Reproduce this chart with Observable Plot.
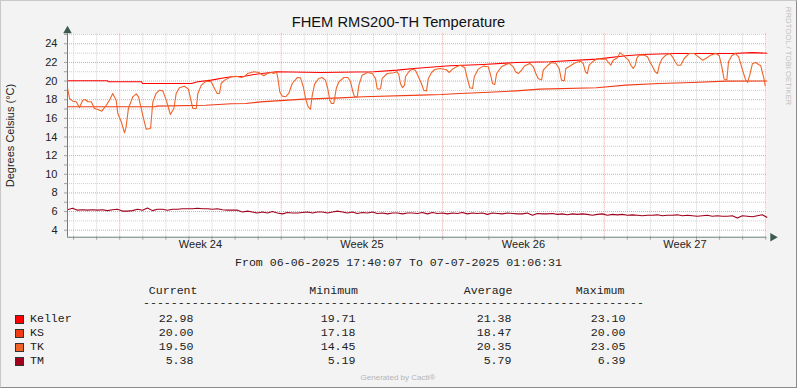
<!DOCTYPE html>
<html><head><meta charset="utf-8">
<script src="https://cdn.jsdelivr.net/npm/d3@7"></script>
<script src="https://cdn.jsdelivr.net/npm/@observablehq/plot@0.6"></script>
<style>
html,body{margin:0;padding:0;background:#f3f3f3;}
#wrap{position:relative;width:797px;height:388px;background:#f3f3f3;overflow:hidden;font-family:"Liberation Sans",Arial,sans-serif;}
#border{position:absolute;left:0;top:0;width:797px;height:388px;box-sizing:border-box;border-top:1px solid #c8c8c8;border-left:1px solid #c8c8c8;border-right:1px solid #8a8a8a;border-bottom:1px solid #8a8a8a;pointer-events:none;}
#chart{position:absolute;left:0;top:0;}
.t{position:absolute;white-space:pre;line-height:1;}
.box{position:absolute;width:7px;height:7px;border:1px solid #333;}
</style></head>
<body><div id="wrap"><div id="chart"></div><div id="border"></div></div>
<script>
// ---- data ----
const seriesNames = ["Keller", "KS", "TK", "TM"];
const seriesColors = ["#ff0000", "#f03c14", "#f06428", "#a0001c"];
const colCurrent = ["22.98", "20.00", "19.50", "5.38"];
const colMinimum = ["19.71", "17.18", "14.45", "5.19"];
const colAverage = ["21.38", "18.47", "20.35", "5.79"];
const colMaximum = ["23.10", "20.00", "23.05", "6.39"];
const headers = ["Current", "Minimum", "Average", "Maximum"];
const weekFmt = "Week %V";

// days since start
const kellerDays = [0, 1.73, 1.78, 3.21, 3.25, 5.37, 5.65, 6.23, 6.81, 7.10, 7.67, 8.08, 9.06, 10.97, 13.28, 14.29, 15.0, 16.57, 18.02, 19.46, 20.91, 22.93, 24.20, 24.92, 26.37, 28.83, 29.69, 30.31];
const kellerVals = [20.03, 20.03, 19.92, 19.92, 19.74, 19.74, 19.92, 20.1, 20.35, 20.46, 20.52, 20.7, 21.0, 20.92, 21.0, 21.17, 21.35, 21.64, 21.78, 21.99, 22.07, 22.35, 22.71, 22.85, 22.96, 22.96, 23.05, 22.98];

const ksDays = [0, 3.84, 3.85, 5.98, 7.10, 7.72, 8.37, 10.24, 11.83, 12.83, 15.30, 16.21, 17.0, 18.02, 19.46, 20.47, 22.93, 24.20, 25.65, 27.09, 28.54, 30.31];
const ksVals = [17.24, 17.24, 17.31, 17.41, 17.56, 17.59, 17.77, 18.06, 18.2, 18.31, 18.49, 18.56, 18.67, 18.77, 18.95, 19.13, 19.29, 19.56, 19.74, 19.85, 19.99, 20.0];

const tkDays = [0, 0.09, 0.23, 0.38, 0.52, 0.66, 0.77, 0.88, 1.03, 1.17, 1.31, 1.49, 1.68, 1.82, 1.96, 2.11, 2.18, 2.33, 2.47, 2.54, 2.64, 2.83, 2.98, 3.08, 3.26, 3.41, 3.60, 3.70, 3.84, 3.99, 4.13, 4.28, 4.46, 4.61, 4.71, 4.85, 5.07, 5.24, 5.43, 5.58, 5.65, 5.80, 6.01, 6.23, 6.37, 6.49, 6.59, 6.66, 6.81, 7.10, 7.31, 7.53, 7.68, 7.80, 8.08, 8.29, 8.51, 8.66, 8.83, 8.94, 9.06, 9.12, 9.20, 9.31, 9.45, 9.59, 9.74, 9.96, 10.10, 10.22, 10.32, 10.43, 10.53, 10.61, 10.71, 10.89, 11.04, 11.18, 11.28, 11.37, 11.44, 11.54, 11.65, 11.76, 11.98, 12.15, 12.27, 12.37, 12.44, 12.56, 12.63, 12.77, 12.99, 13.21, 13.35, 13.42, 13.49, 13.57, 13.64, 13.86, 14.14, 14.29, 14.36, 14.43, 14.52, 14.61, 14.65, 14.79, 14.94, 15.08, 15.18, 15.34, 15.44, 15.56, 15.64, 15.78, 15.92, 16.14, 16.40, 16.55, 16.69, 16.86, 17.03, 17.22, 17.33, 17.44, 17.56, 17.63, 17.80, 18.02, 18.24, 18.34, 18.42, 18.52, 18.60, 18.81, 19.00, 19.15, 19.32, 19.42, 19.54, 19.68, 19.82, 20.04, 20.19, 20.30, 20.40, 20.55, 20.62, 20.79, 20.98, 21.17, 21.31, 21.41, 21.53, 21.60, 21.80, 22.03, 22.24, 22.35, 22.45, 22.53, 22.61, 22.79, 22.97, 23.16, 23.33, 23.45, 23.55, 23.65, 23.84, 23.94, 24.09, 24.20, 24.32, 24.42, 24.52, 24.61, 24.68, 24.78, 25.00, 25.14, 25.24, 25.36, 25.47, 25.57, 25.65, 25.76, 25.93, 26.11, 26.22, 26.34, 26.44, 26.58, 26.73, 26.95, 27.16, 27.35, 27.52, 27.67, 27.88, 28.10, 28.25, 28.36, 28.46, 28.58, 28.65, 28.79, 28.94, 29.09, 29.26, 29.38, 29.48, 29.57, 29.69, 29.84, 29.95, 30.05, 30.13, 30.18, 30.24];
const tkVals = [19.28, 18.13, 17.84, 17.78, 17.17, 17.95, 18.02, 17.78, 17.78, 17.06, 16.95, 16.77, 17.41, 17.95, 18.67, 17.95, 16.52, 15.63, 14.45, 15.09, 17.06, 18.31, 18.63, 18.31, 16.34, 14.84, 14.91, 17.78, 18.67, 19.02, 18.95, 17.95, 16.41, 17.06, 18.67, 19.28, 19.45, 19.13, 17.06, 17.06, 18.67, 19.56, 19.99, 19.92, 19.2, 18.67, 18.67, 19.74, 20.1, 20.46, 20.52, 20.38, 20.5, 20.81, 21.0, 20.92, 20.57, 20.81, 20.92, 20.81, 21.0, 20.28, 18.85, 18.38, 18.31, 18.67, 19.74, 20.38, 20.35, 19.39, 18.13, 17.24, 16.98, 18.49, 19.67, 20.28, 20.38, 20.1, 19.2, 17.95, 17.59, 17.59, 19.2, 19.92, 20.38, 20.38, 19.92, 18.85, 18.31, 18.31, 19.56, 20.63, 20.92, 20.81, 20.28, 19.2, 19.13, 19.2, 20.28, 20.81, 20.89, 21.0, 20.71, 19.74, 19.28, 19.56, 20.46, 21.0, 21.28, 21.17, 20.63, 19.74, 19.02, 18.95, 20.28, 20.92, 21.24, 21.35, 21.24, 20.92, 21.28, 21.53, 21.7, 21.42, 20.28, 19.28, 19.2, 20.46, 21.28, 21.6, 21.53, 20.63, 19.74, 19.63, 20.81, 21.53, 21.78, 21.89, 21.53, 21.0, 20.81, 21.17, 21.64, 21.89, 21.53, 20.81, 20.28, 20.1, 21.17, 21.64, 21.99, 21.89, 21.35, 20.1, 20.03, 21.35, 21.64, 21.99, 22.13, 21.89, 21.0, 20.81, 21.7, 22.13, 22.42, 22.35, 22.35, 21.99, 21.7, 22.24, 22.49, 23.05, 22.78, 22.49, 22.24, 21.7, 21.35, 21.7, 22.49, 22.78, 22.78, 22.6, 22.07, 21.53, 21.0, 20.81, 21.7, 22.35, 22.78, 22.96, 22.6, 22.07, 21.7, 21.7, 22.42, 22.96, 22.96, 22.6, 22.24, 22.42, 22.78, 22.96, 22.71, 21.53, 20.2, 20.17, 22.07, 22.71, 22.96, 22.6, 21.17, 20.2, 19.85, 20.63, 21.89, 21.99, 21.78, 21.64, 20.81, 20.35, 19.5];

// TM sampled every 5.2 hours from the start, last value at the end of the range
const tmStepHours = 5.2;
const tmVals = [6.2, 6.35, 6.15, 6.2, 6.15, 6.2, 6.15, 6.2, 6.1, 6.2, 6.25, 6.05, 6.05, 6.1, 6.25, 6.15, 6.39, 6.1, 6.25, 6.25, 6.15, 6.25, 6.25, 6.3, 6.3, 6.3, 6.35, 6.3, 6.3, 6.25, 6.3, 6.2, 6.15, 6.15, 6.15, 5.95, 6.05, 5.95, 5.85, 5.95, 5.85, 6.0, 5.85, 5.75, 5.9, 5.85, 5.85, 5.9, 5.95, 5.85, 5.95, 5.95, 5.85, 5.95, 6.05, 5.95, 5.85, 5.95, 5.8, 5.9, 5.85, 5.95, 5.8, 5.85, 5.75, 5.85, 5.85, 5.75, 5.85, 5.85, 5.8, 5.9, 5.75, 5.9, 5.8, 5.85, 5.75, 5.85, 5.8, 5.9, 5.75, 5.85, 5.8, 5.85, 5.7, 5.85, 5.8, 5.75, 5.85, 5.8, 5.75, 5.75, 5.85, 5.6, 5.8, 5.75, 5.75, 5.8, 5.7, 5.75, 5.65, 5.75, 5.7, 5.75, 5.7, 5.6, 5.7, 5.75, 5.6, 5.7, 5.65, 5.7, 5.6, 5.65, 5.6, 5.55, 5.6, 5.6, 5.65, 5.55, 5.6, 5.6, 5.65, 5.55, 5.6, 5.55, 5.5, 5.55, 5.6, 5.5, 5.55, 5.5, 5.5, 5.55, 5.3, 5.55, 5.5, 5.45, 5.55, 5.65];
const tmLast = 5.38;

// ---- build ----
const start = new Date(Date.UTC(2025, 5, 6, 17, 40, 7));
const end = new Date(Date.UTC(2025, 6, 7, 1, 6, 31));
const DAY = 864e5;
const toDate = d => new Date(+start + d * DAY);

const rows = [];
kellerDays.forEach((d, i) => rows.push({name: "Keller", t: toDate(d), v: kellerVals[i]}));
ksDays.forEach((d, i) => rows.push({name: "KS", t: toDate(d), v: ksVals[i]}));
tkDays.forEach((d, i) => rows.push({name: "TK", t: toDate(d), v: tkVals[i]}));
tmVals.forEach((v, i) => rows.push({name: "TM", t: new Date(+start + i * tmStepHours * 36e5), v}));
rows.push({name: "TM", t: end, v: tmLast});

const yDomain = [3.25, 25.07];
const allDays = d3.utcDay.range(start, end);
const majorDays = allDays.filter(d => d.getUTCDay() === 1);
const minorDays = allDays.filter(d => d.getUTCDay() !== 1);
const weekMids = majorDays.slice(0, -1).map(d => d3.utcHour.offset(d, 84));
const majorY = d3.range(4, 25, 2);
const minorY = d3.range(5, 26, 2);

const gridMinor = "#cfcfcf", gridMajor = "#f19a9a", axisCol = "#6a8078", arrowCol = "#3c5a50";

const chart = Plot.plot({
  width: 797, height: 256,
  marginTop: 33.3, marginBottom: 19.3, marginLeft: 67, marginRight: 30.7,
  x: {type: "utc", domain: [start, end]},
  y: {domain: yDomain},
  color: {domain: seriesNames, range: seriesColors},
  style: {background: "transparent", fontFamily: "'Liberation Sans', Arial, sans-serif", fontSize: "11px", color: "#222", overflow: "visible"},
  marks: [
    Plot.frame({fill: "white", stroke: null}),
    Plot.ruleY(minorY, {stroke: gridMinor, strokeDasharray: "1,1"}),
    Plot.ruleX(minorDays, {stroke: gridMinor, strokeDasharray: "1,1"}),
    Plot.ruleY(majorY, {stroke: gridMajor, strokeDasharray: "1,1"}),
    Plot.ruleX(majorDays, {stroke: gridMajor, strokeDasharray: "1,1"}),
    Plot.axisY(d3.range(4, 26), {tickSize: 3, tickPadding: 7, stroke: "#a0a0a0",
      tickFormat: d => (d % 2 === 0 && d <= 24) ? d : "",
      label: "Degrees Celsius (°C)", labelAnchor: "center", labelArrow: "none", labelOffset: 61}),
    Plot.axisX(allDays, {tickSize: 3, stroke: "#a0a0a0", tickFormat: () => "", label: null}),
    Plot.axisX(weekMids, {tickSize: 0, tickPadding: 3, tickFormat: d3.utcFormat(weekFmt), label: null}),
    Plot.line(rows, {x: "t", y: "v", z: "name", stroke: "name", strokeWidth: 1.1, curve: "linear"}),
    Plot.ruleY([yDomain[0]], {stroke: axisCol}),
    Plot.ruleX([start], {y1: yDomain[0], y2: yDomain[1], stroke: axisCol}),
    Plot.dot([{t: end, v: yDomain[0]}], {x: "t", y: "v", symbol: "triangle", r: 3.2, rotate: 90, fill: arrowCol, stroke: null, dx: 6}),
    Plot.dot([{t: start, v: yDomain[1]}], {x: "t", y: "v", symbol: "triangle", r: 3.2, fill: arrowCol, stroke: null, dy: -3})
  ]
});
document.getElementById("chart").appendChild(chart);

// ---- text ----
const wrap = document.getElementById("wrap");
function put(text, x, y, anchor, css) {
  const s = document.createElement("div");
  s.className = "t";
  s.textContent = text;
  s.style.left = x + "px";
  s.style.top = y + "px";
  const tx = anchor === "end" ? "-100%" : anchor === "middle" ? "-50%" : "0";
  s.style.transform = `translate(${tx},-50%)`;
  Object.assign(s.style, css || {});
  wrap.appendChild(s);
  return s;
}
put("FHEM RMS200-TH Temperature", 398.5, 22, "middle", {fontSize: "14.7px", color: "#111"});
put("RRDTOOL / TOBI OETIKER", 788, 56, "middle", {fontSize: "7.8px", color: "#bdbdbd", writingMode: "vertical-rl", transform: "translate(-50%,-50%)"});
const fmt = d3.utcFormat("%d-%m-%Y %H:%M:%S");
const mono = {fontFamily: "'Liberation Mono','DejaVu Sans Mono',monospace", fontSize: "11.6px", color: "#222", lineHeight: "10px"};
put(`From ${fmt(start)} To ${fmt(end)}`, 398.5, 263, "middle", mono);
const colRight = [193.5, 355.5, 511.5, 625.5];
const headRight = [197.5, 358, 512.5, 624.5];
headers.forEach((h, i) => put(h, headRight[i], 290.5, "end", mono));
put("-".repeat(72), 143, 302.5, "start", mono);
const rowY = [319, 333, 347, 361];
const cols = [colCurrent, colMinimum, colAverage, colMaximum];
seriesNames.forEach((n, r) => {
  const b = document.createElement("div");
  b.className = "box";
  b.style.left = "15px";
  b.style.top = (rowY[r] - 4) + "px";
  b.style.background = seriesColors[r];
  wrap.appendChild(b);
  put(n, 30, rowY[r], "start", mono);
  cols.forEach((c, j) => put(c[r], colRight[j], rowY[r], "end", mono));
});
put("Generated by Cacti®", 398, 378, "middle", {fontSize: "8px", color: "#b5b5b5"});
</script>
</body></html>
